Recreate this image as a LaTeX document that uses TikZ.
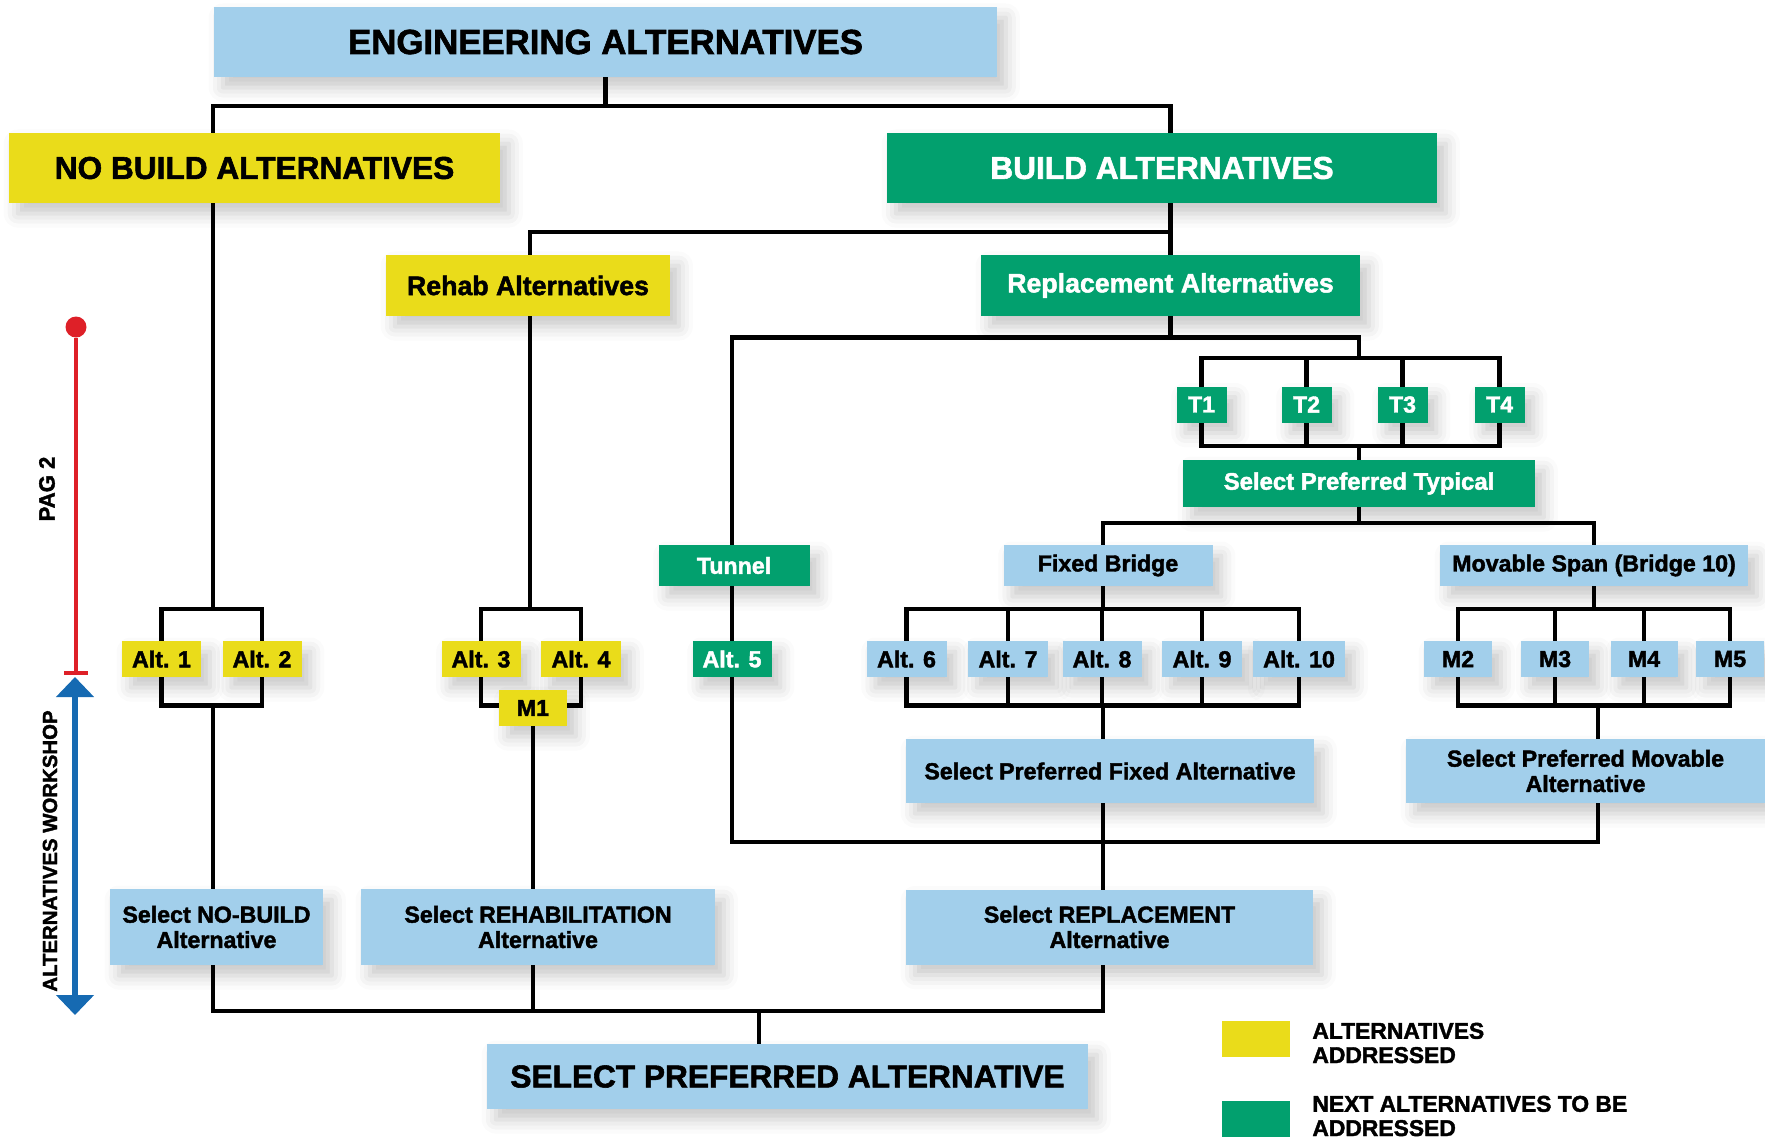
\documentclass[tikz,border=0pt]{standalone}
\usepackage{fontspec}
\setmainfont{Liberation Sans}[BoldFeatures={FakeBold=1.8}]
\usetikzlibrary{backgrounds,positioning,shadows.blur,arrows.meta}

\definecolor{skyblue}{RGB}{162,207,235}
\definecolor{altyellow}{RGB}{234,220,26}
\definecolor{altgreen}{RGB}{2,160,110}
\definecolor{pagred}{RGB}{222,32,40}
\definecolor{wsblue}{RGB}{22,106,178}

\tikzset{
  wire/.style={line width=1.3pt, line cap=rect},
  card/.style={inner sep=0pt, align=center, text=black,
    font=\bfseries\fontsize{6.6}{7.2}\selectfont,
    blur shadow={shadow xshift=2.5pt, shadow yshift=-3pt,
      shadow blur radius=4pt, shadow opacity=22}},
  bluecard/.style={card, fill=skyblue},
  yelcard/.style={card, fill=altyellow},
  grncard/.style={card, fill=altgreen, text=white},
  wh/.style 2 args={minimum width=#1cm, minimum height=#2cm},
  headfont/.style={font=\bfseries\fontsize{9}{10}\selectfont},
  subfont/.style={font=\bfseries\fontsize{7.6}{8.5}\selectfont},
  altbox/.style={wh={0.79}{0.36}},
  keytext/.style={align=left, inner sep=0pt, font=\bfseries\fontsize{6.5}{6.9}\selectfont},
  sidetext/.style={rotate=90, inner sep=0pt, font=\bfseries\fontsize{6.3}{7}\selectfont},
}

\begin{document}
\begin{tikzpicture}
  \useasboundingbox (0,0) rectangle (17.65,-11.40);

  % top levels
  \node[bluecard, wh={7.83}{0.70}, font=\bfseries\fontsize{9.9}{11}\selectfont] (eng) at (6.055,-0.42) {ENGINEERING ALTERNATIVES};
  \node[yelcard, headfont, wh={4.91}{0.70}] (nobuild) at (2.545,-1.68) {NO BUILD ALTERNATIVES};
  \node[grncard, headfont, wh={5.50}{0.70}] (build) at (11.62,-1.68) {BUILD ALTERNATIVES};
  \node[yelcard, subfont, wh={2.84}{0.61}] (rehab) at (5.28,-2.855) {Rehab Alternatives};
  \node[grncard, subfont, wh={3.79}{0.61}] (repl) at (11.705,-2.855) {Replacement Alternatives};

  % typicals
  \node[grncard, wh={0.50}{0.36}] (t1) at (12.015,-4.045) {T1};
  \node[grncard, wh={0.50}{0.36}] (t2) at (13.065,-4.045) {T2};
  \node[grncard, wh={0.50}{0.36}] (t3) at (14.025,-4.045) {T3};
  \node[grncard, wh={0.50}{0.36}] (t4) at (14.995,-4.045) {T4};
  \node[grncard, wh={3.52}{0.47}, font=\bfseries\fontsize{6.8}{7.4}\selectfont] (spt) at (13.59,-4.835) {Select Preferred Typical};

  % types
  \node[grncard, wh={1.51}{0.41}] (tunnel) at (7.34,-5.655) {Tunnel};
  \node[bluecard, wh={2.09}{0.41}] (fixed) at (11.08,-5.655) {Fixed Bridge};
  \node[bluecard, wh={3.08}{0.41}] (movable) at (15.94,-5.655) {Movable Span (Bridge 10)};

  % alternatives row
  \node[yelcard, altbox] (a1) at (1.615,-6.59) {Alt. 1};
  \node[yelcard, altbox] (a2) at (2.62,-6.59) {Alt. 2};
  \node[yelcard, altbox] (a3) at (4.81,-6.59) {Alt. 3};
  \node[yelcard, altbox, wh={0.80}{0.36}] (a4) at (5.81,-6.59) {Alt. 4};
  \node[yelcard, wh={0.68}{0.36}] (m1) at (5.33,-7.08) {M1};
  \node[grncard, altbox] (a5) at (7.32,-6.59) {Alt. 5};
  \node[bluecard, altbox, wh={0.80}{0.36}] (a6) at (9.065,-6.59) {Alt. 6};
  \node[bluecard, altbox, wh={0.80}{0.36}] (a7) at (10.08,-6.59) {Alt. 7};
  \node[bluecard, altbox] (a8) at (11.02,-6.59) {Alt. 8};
  \node[bluecard, altbox, wh={0.80}{0.36}] (a9) at (12.02,-6.59) {Alt. 9};
  \node[bluecard, wh={0.92}{0.36}] (a10) at (12.99,-6.59) {Alt. 10};
  \node[bluecard, wh={0.68}{0.36}] (m2) at (14.58,-6.59) {M2};
  \node[bluecard, wh={0.68}{0.36}] (m3) at (15.55,-6.59) {M3};
  \node[bluecard, wh={0.67}{0.36}] (m4) at (16.44,-6.59) {M4};
  \node[bluecard, wh={0.68}{0.36}] (m5) at (17.30,-6.59) {M5};

  % selections
  \node[bluecard, wh={4.08}{0.64}] (spfixed) at (11.10,-7.71) {Select Preferred Fixed Alternative};
  \node[bluecard, wh={3.59}{0.64}] (spmov) at (15.855,-7.71) {Select Preferred Movable\\Alternative};
  \node[bluecard, wh={2.13}{0.76}] (selnob) at (2.165,-9.27) {Select NO-BUILD\\Alternative};
  \node[bluecard, wh={3.54}{0.76}] (selreh) at (5.38,-9.27) {Select REHABILITATION\\Alternative};
  \node[bluecard, wh={4.07}{0.75}] (selrep) at (11.095,-9.27) {Select REPLACEMENT\\Alternative};
  \node[bluecard, headfont, wh={6.01}{0.65}] (spa) at (7.875,-10.765) {SELECT PREFERRED ALTERNATIVE};

  % legend
  \node[fill=altyellow, wh={0.68}{0.36}, inner sep=0pt] (keyy) at (12.56,-10.39) {};
  \node[keytext, right=0.21cm of keyy, yshift=-0.04cm] (keyytxt) {ALTERNATIVES\\ADDRESSED};
  \node[fill=altgreen, wh={0.68}{0.36}, inner sep=0pt] (keyg) at (12.56,-11.19) {};
  \node[keytext, right=0.21cm of keyg, yshift=0.03cm] (keygtxt) {NEXT ALTERNATIVES TO BE\\ADDRESSED};

  % side scale
  \node[circle, fill=pagred, minimum size=0.21cm, inner sep=0pt] (pagtop) at (0.76,-3.27) {};
  \coordinate (pagend) at (0.76,-6.73);
  \draw[pagred, line width=1.1pt] (pagtop) -- (pagend);
  \draw[pagred, line width=1.3pt] ([xshift=-0.12cm]pagend) -- ([xshift=0.12cm]pagend);
  \node[sidetext] (pag) at (0.47,-4.89) {PAG 2};
  \coordinate (wstop) at (0.75,-6.77);
  \coordinate (wsbot) at (0.75,-10.15);
  \draw[wsblue, line width=1.5pt, {Triangle[width=0.37cm,length=0.2cm]}-{Triangle[width=0.37cm,length=0.2cm]}] (wstop) -- (wsbot);
  \node[sidetext, font=\bfseries\fontsize{5.8}{7}\selectfont] (ws) at (0.50,-8.51) {ALTERNATIVES WORKSHOP};

  % connectors
  \begin{scope}[on background layer]
    \coordinate (rowtop) at (0,-6.09);
    \coordinate (rowbot) at (0,-7.055);
    \coordinate (ta) at (2.13,-1.06);
    \coordinate (tb) at (5.30,-2.32);
    \coordinate (tc) at (7.32,-3.375);
    \coordinate (tt) at (13.59,-3.58);
    \coordinate (tbb) at (13.59,-4.46);
    \coordinate (td) at (11.03,-5.23);
    \coordinate (tm) at (15.98,-7.055);
    \coordinate (ebus) at (0,-8.42);
    \coordinate (fbus) at (0,-10.11);
    \coordinate (tf) at (7.59,-10.11);
    % engineering split
    \draw[wire] (eng.south) -- (eng.south |- ta);
    \draw[wire] (ta) -- (ta -| repl) -- (repl.north);
    % no build
    \draw[wire] (ta) -- (ta |- rowtop);
    \draw[wire] (a1 |- rowtop) rectangle (a2 |- rowbot);
    \draw[wire] (ta |- rowbot) -- (ta |- selnob.north);
    \draw[wire] (ta |- selnob.south) -- (ta |- fbus);
    % rehab
    \draw[wire] (tb) -- (tb -| repl);
    \draw[wire] (tb) -- (tb |- rowtop);
    \draw[wire] (a3 |- rowtop) rectangle (a4 |- rowbot);
    \draw[wire] (m1) -- (m1 |- selreh.north);
    \draw[wire] (m1 |- selreh.south) -- (m1 |- fbus);
    % replacement
    \draw[wire] (repl) -- (repl |- tc);
    \draw[wire] (tc) -| (tt);
    \draw[wire] (tc) -- (a5) -- (a5 |- ebus);
    \draw[wire] (t1 |- tt) rectangle (t4 |- tbb);
    \foreach \n in {t2,t3}
      \draw[wire] (\n |- tt) -- (\n |- tbb);
    \draw[wire] (tbb) -- (tbb |- spt.north);
    \draw[wire] (spt.south -| tbb) -- (tbb |- td);
    \draw[wire] (td) -- (td -| movable) -- (movable.north);
    % fixed bridge
    \draw[wire] (td) -- (td |- fixed.north);
    \draw[wire] (td |- fixed.south) -- (td |- rowtop);
    \draw[wire] (a6 |- rowtop) rectangle (a10 |- rowbot);
    \foreach \n in {a7,a8,a9}
      \draw[wire] (\n |- rowtop) -- (\n |- rowbot);
    \draw[wire] (td |- rowbot) -- (td |- spfixed.north);
    \draw[wire] (td |- spfixed.south) -- (td |- selrep.north);
    \draw[wire] (td |- selrep.south) -- (td |- fbus) -- (ta |- fbus);
    % movable span
    \draw[wire] (movable) -- (movable |- rowtop);
    \draw[wire] (m2 |- rowtop) rectangle (m5 |- rowbot);
    \foreach \n in {m3,m4}
      \draw[wire] (\n |- rowtop) -- (\n |- rowbot);
    \draw[wire] (tm) -- (tm |- spmov.north);
    \draw[wire] (tm |- spmov.south) -- (tm |- ebus) -- (a5 |- ebus);
    % final
    \draw[wire] (tf) -- (tf |- spa.north);
  \end{scope}
\end{tikzpicture}
\end{document}
